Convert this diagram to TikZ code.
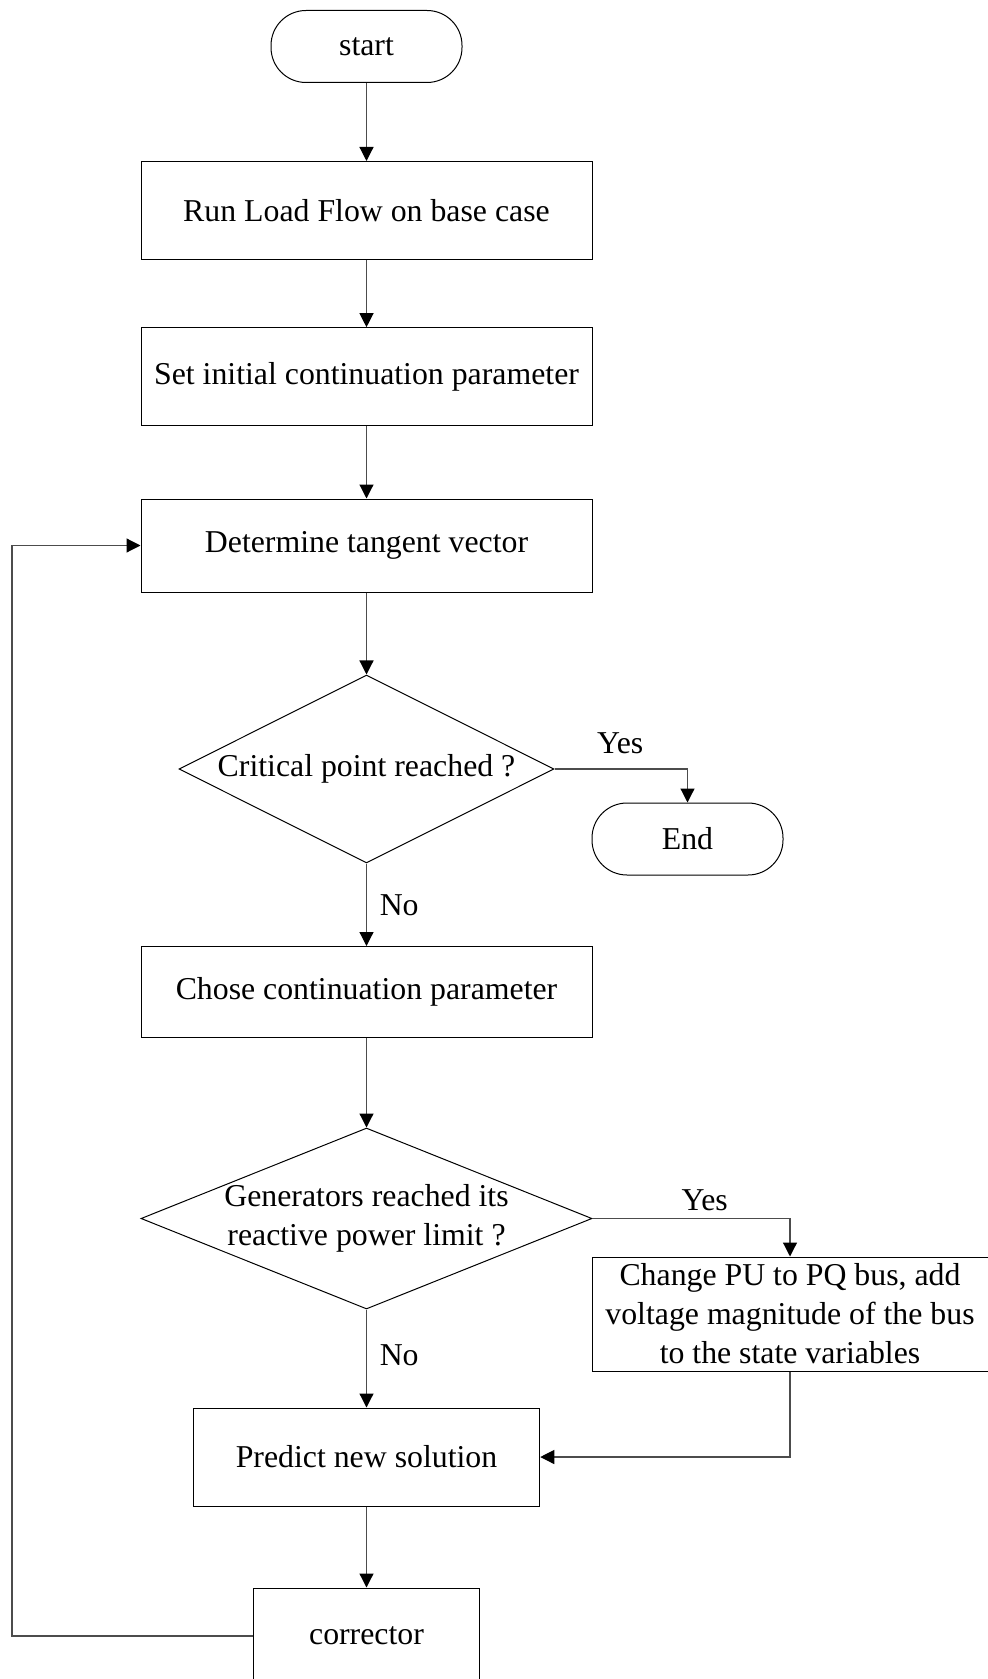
\documentclass[tikz,border=0pt]{standalone}
\usepackage{fontspec}
\setmainfont{Liberation Serif}
\usetikzlibrary{shapes.geometric,arrows.meta,positioning}

\begin{document}
\begin{tikzpicture}[x=0.5pt,y=-0.5pt,font=\fontsize{15.9}{19.5}\selectfont,
  process/.style={draw,rectangle,inner sep=0pt,align=center,line width=0.5pt},
  terminal/.style={draw,rectangle,rounded corners=17.5pt,minimum width=95.5pt,minimum height=36pt,line width=0.5pt},
  decision/.style={draw,diamond,inner sep=0pt,line width=0.5pt},
  flow/.style={-{Triangle[length=7pt,width=7pt,color=black]},draw=black!70,line width=0.6pt}]
  \useasboundingbox (0,0) rectangle (988,1679);

  \node[terminal] (start) at (366.5,46.5) {start};
  \node[process,minimum width=225.5pt,minimum height=49pt] (loadflow) at (366.5,210.5) {Run Load Flow on base case};
  \node[process,minimum width=225.5pt,minimum height=49pt] (initpar) at (366.5,376.7) {Set initial continuation parameter};
  \node[process,minimum width=225.5pt,minimum height=46.5pt] (tangent) at (366.5,545.5) {Determine tangent vector};
  \node[decision,minimum width=187.5pt,minimum height=94pt] (critical) at (366.5,769) {};
  \node (criticaltxt) at (critical) {Critical point reached ?};
  \node[terminal] (end) at (687.5,839) {End};
  \node[process,minimum width=225.5pt,minimum height=45.5pt] (chose) at (366.5,992) {Chose continuation parameter};
  \node[decision,minimum width=225.5pt,minimum height=90.5pt] (genlimit) at (366.5,1218.5) {};
  \node[align=center] (genlimittxt) at (genlimit) {Generators reached its\\reactive power limit ?};
  \node[process,minimum width=198pt,minimum height=57pt] (pvpq) at (790,1314) {Change PU to PQ bus, add\\voltage magnitude of the bus\\to the state variables};
  \node[process,minimum width=173.25pt,minimum height=49pt] (predict) at (366.5,1457) {Predict new solution};
  \node[process,minimum width=112.75pt,minimum height=48pt] (corrector) at (366.5,1636) {corrector};
  \coordinate (back) at (12,1636);

  \path[flow]
    (start) edge (loadflow)
    (loadflow) edge (initpar)
    (initpar) edge (tangent)
    (tangent) edge (critical)
    (critical) edge node[pos=0.5,right=3pt] {No} (chose)
    (chose) edge (genlimit)
    (genlimit) edge node[pos=0.465,right=3pt] {No} (predict)
    (predict) edge (corrector);

  \draw[flow] (critical.east) -| node[pos=0.247,above=4pt] {Yes} (end.north);
  \draw[flow] (genlimit.east) -| node[pos=0.284,above] {Yes} (pvpq.north);
  \draw[flow] (pvpq.south) |- (predict.east);
  \draw[flow] (corrector.west) -- (back) |- (tangent.west);
\end{tikzpicture}
\end{document}
